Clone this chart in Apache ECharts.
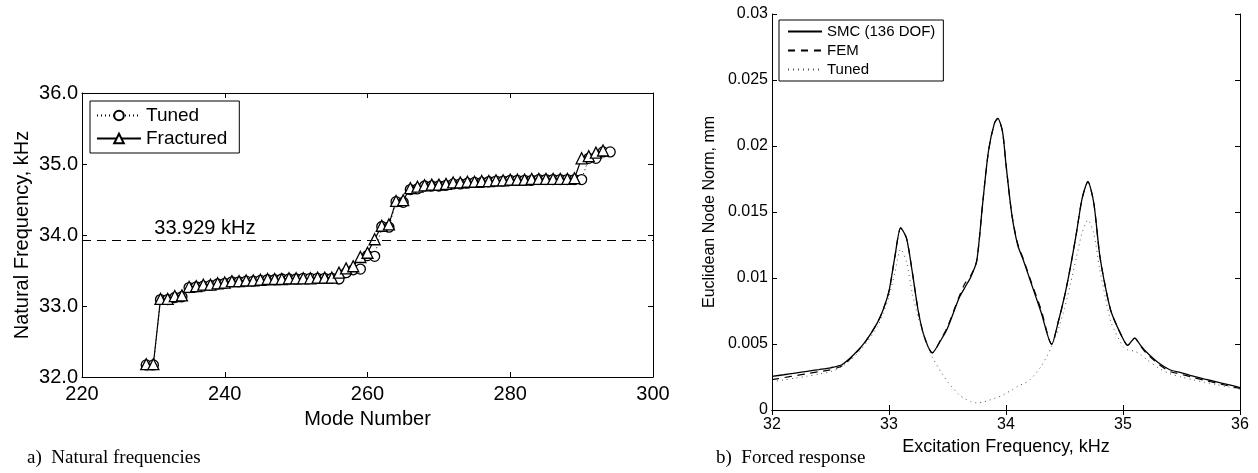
<!DOCTYPE html>
<html>
<head>
<meta charset="utf-8">
<script src="https://cdn.jsdelivr.net/npm/echarts/dist/echarts.min.js"></script>
<style>
    html, body { margin: 0; padding: 0; background: #fff; }
    #chart { width: 1258px; height: 473px; }
</style>
</head>
<body>
<div id="chart"></div>
<script>
    // a) natural frequencies, kHz, per mode number
    const modes = [229, 230, 231, 232, 233, 234, 235, 236, 237, 238, 239, 240, 241, 242, 243, 244, 245, 246, 247, 248,
        249, 250, 251, 252, 253, 254, 255, 256, 257, 258, 259, 260, 261, 262, 263, 264, 265, 266, 267, 268,
        269, 270, 271, 272, 273, 274, 275, 276, 277, 278, 279, 280, 281, 282, 283, 284, 285, 286, 287, 288,
        289, 290, 291, 292, 293, 294]
    const tunedFreq = [32.17, 32.17, 33.09, 33.09, 33.12, 33.13, 33.26, 33.27, 33.28, 33.29, 33.31, 33.32, 33.34, 33.34, 33.35, 33.35, 33.36, 33.37, 33.37, 33.38,
        33.38, 33.38, 33.39, 33.39, 33.39, 33.39, 33.39, 33.38, 33.47, 33.51, 33.52, 33.71, 33.70, 34.12, 34.11, 34.47, 34.46, 34.64, 34.65, 34.69,
        34.69, 34.69, 34.70, 34.72, 34.72, 34.73, 34.74, 34.74, 34.75, 34.76, 34.76, 34.77, 34.77, 34.77, 34.77, 34.78, 34.78, 34.78, 34.78, 34.78,
        34.78, 34.78, 35.08, 35.08, 35.17, 35.17]
    const fracturedFreq = [32.18, 32.18, 33.10, 33.10, 33.14, 33.15, 33.27, 33.28, 33.30, 33.30, 33.32, 33.33, 33.35, 33.35, 33.36, 33.36, 33.37, 33.38, 33.38, 33.38,
        33.39, 33.39, 33.39, 33.39, 33.40, 33.40, 33.40, 33.47, 33.53, 33.56, 33.69, 33.75, 33.94, 34.13, 34.15, 34.48, 34.49, 34.66, 34.68, 34.70,
        34.71, 34.71, 34.72, 34.74, 34.74, 34.75, 34.75, 34.76, 34.76, 34.77, 34.77, 34.78, 34.78, 34.78, 34.79, 34.79, 34.79, 34.79, 34.79, 34.79,
        34.80, 35.08, 35.11, 35.16, 35.19]
    const excitation = 33.929

    // b) forced response, mm, per excitation frequency kHz
    const excFreq = [32.0, 32.1, 32.2, 32.3, 32.4, 32.5, 32.6, 32.7, 32.8, 32.9, 32.95, 33.0, 33.05, 33.1, 33.15, 33.2, 33.25, 33.3, 33.37, 33.45,
        33.5, 33.6, 33.65, 33.7, 33.75, 33.8, 33.85, 33.9, 33.93, 33.97, 34.0, 34.05, 34.1, 34.15, 34.2, 34.3, 34.39, 34.45, 34.5, 34.55,
        34.6, 34.65, 34.7, 34.75, 34.8, 34.85, 34.9, 35.0, 35.04, 35.1, 35.15, 35.2, 35.3, 35.4, 35.5, 35.6, 35.7, 35.8, 35.9, 36.0]
    const smcNorm = [0.00255, 0.00267, 0.00280, 0.00293, 0.00306, 0.00320, 0.00345, 0.00420, 0.00520, 0.00660, 0.00760, 0.00900, 0.01160, 0.01380, 0.01300, 0.01040, 0.00750, 0.00560, 0.00433, 0.00540,
        0.00620, 0.00850, 0.00930, 0.01010, 0.01130, 0.01560, 0.01960, 0.02170, 0.02210, 0.02110, 0.01860, 0.01480, 0.01250, 0.01130, 0.01000, 0.00740, 0.00496, 0.00680, 0.00860, 0.01080,
        0.01330, 0.01600, 0.01730, 0.01570, 0.01180, 0.00930, 0.00740, 0.00540, 0.00490, 0.00545, 0.00490, 0.00440, 0.00360, 0.00305, 0.00282, 0.00256, 0.00234, 0.00213, 0.00192, 0.00170]
    const femNorm = [0.00230, 0.00245, 0.00260, 0.00275, 0.00290, 0.00305, 0.00335, 0.00415, 0.00520, 0.00660, 0.00760, 0.00900, 0.01160, 0.01380, 0.01300, 0.01040, 0.00750, 0.00560, 0.00433, 0.00545,
        0.00630, 0.00860, 0.00960, 0.01020, 0.01130, 0.01560, 0.01960, 0.02170, 0.02210, 0.02110, 0.01860, 0.01480, 0.01260, 0.01140, 0.01010, 0.00760, 0.00500, 0.00680, 0.00860, 0.01080,
        0.01330, 0.01600, 0.01730, 0.01570, 0.01180, 0.00930, 0.00740, 0.00540, 0.00490, 0.00545, 0.00485, 0.00430, 0.00350, 0.00292, 0.00270, 0.00246, 0.00225, 0.00203, 0.00183, 0.00163]
    const tunedNorm = [0.00215, 0.00228, 0.00242, 0.00256, 0.00272, 0.00290, 0.00330, 0.00400, 0.00500, 0.00630, 0.00730, 0.00860, 0.01040, 0.01220, 0.01120, 0.00880, 0.00700, 0.00560, 0.00400, 0.00280,
        0.00215, 0.00114, 0.00085, 0.00062, 0.00054, 0.00060, 0.00072, 0.00088, 0.00097, 0.00110, 0.00128, 0.00150, 0.00180, 0.00200, 0.00225, 0.00330, 0.00480, 0.00620, 0.00770, 0.00950,
        0.01150, 0.01340, 0.01440, 0.01340, 0.01070, 0.00850, 0.00660, 0.00480, 0.00455, 0.00445, 0.00420, 0.00385, 0.00320, 0.00275, 0.00250, 0.00228, 0.00210, 0.00192, 0.00175, 0.00158]

    const font = 'Liberation Sans'
    const pair = (xs, ys) => ys.map((v, i) => [xs[i], v])

    // matlab like box: ticks inside on all four sides
    function axis(grid, pos, min, max, step, labelSize, labels, margin, fmt) {
        return {
            type: 'value', gridIndex: grid, position: pos, min: min, max: max, interval: step,
            axisLine: {show: true, lineStyle: {color: '#000', width: 1}},
            axisTick: {show: true, inside: true, length: 5, lineStyle: {color: '#000'}},
            splitLine: {show: false},
            axisLabel: {show: labels, color: '#000', fontFamily: font, fontSize: labelSize, margin: margin, formatter: fmt}
        }
    }

    const option = {
        animation: false,
        backgroundColor: '#fff',
        grid: [
            {left: 82, top: 93, width: 571, height: 284},
            {left: 772, top: 14, width: 468, height: 396}
        ],
        xAxis: [
            Object.assign(axis(0, 'bottom', 220, 300, 20, 20, true, 7), {
                name: 'Mode Number', nameLocation: 'middle', nameGap: 32,
                nameTextStyle: {color: '#000', fontFamily: font, fontSize: 20}
            }),
            axis(0, 'top', 220, 300, 20, 20, false, 4),
            Object.assign(axis(1, 'bottom', 32, 36, 1, 16, true, 7), {
                name: 'Excitation Frequency, kHz', nameLocation: 'middle', nameGap: 25,
                nameTextStyle: {color: '#000', fontFamily: font, fontSize: 18}
            }),
            axis(1, 'top', 32, 36, 1, 16, false, 4)
        ],
        yAxis: [
            Object.assign(axis(0, 'left', 32, 36, 1, 20, true, 4, v => v.toFixed(1)), {
                name: 'Natural Frequency, kHz', nameLocation: 'middle', nameGap: 50,
                nameTextStyle: {color: '#000', fontFamily: font, fontSize: 20}
            }),
            axis(0, 'right', 32, 36, 1, 20, false, 4),
            Object.assign(axis(1, 'left', 0, 0.03, 0.005, 16, true, 4), {
                name: 'Euclidean Node Norm, mm', nameLocation: 'middle', nameGap: 54,
                nameTextStyle: {color: '#000', fontFamily: font, fontSize: 16}
            }),
            axis(1, 'right', 0, 0.03, 0.005, 16, false, 4)
        ],
        legend: [
            {
                data: ['Tuned', 'Fractured'],
                orient: 'vertical', left: 90, top: 101,
                padding: [5, 12, 5, 6], itemGap: 4, itemWidth: 44, itemHeight: 12,
                borderColor: '#000', borderWidth: 1, backgroundColor: '#fff',
                textStyle: {color: '#000', fontFamily: font, fontSize: 19}
            },
            {
                data: ['SMC (136 DOF)', 'FEM', 'Tuned '],
                orient: 'vertical', left: 779, top: 20,
                padding: [4, 8, 4, 8], itemGap: 4, itemWidth: 34, itemHeight: 12,
                borderColor: '#000', borderWidth: 1, backgroundColor: '#fff',
                itemStyle: {opacity: 0},
                textStyle: {color: '#000', fontFamily: font, fontSize: 15}
            }
        ],
        series: [
            {
                name: 'Tuned', type: 'line', xAxisIndex: 0, yAxisIndex: 0,
                data: pair(modes, tunedFreq),
                symbol: 'circle', symbolSize: 10,
                itemStyle: {color: '#fff', borderColor: '#000', borderWidth: 1.3},
                lineStyle: {color: '#000', width: 1, type: [1, 3]},
                // excitation frequency line
                markLine: {
                    silent: true, symbol: ['none', 'none'],
                    lineStyle: {color: '#000', width: 1, type: [9, 6]},
                    label: {show: false},
                    data: [{yAxis: excitation}]
                },
                markPoint: {
                    silent: true, symbol: 'rect', symbolSize: 1,
                    itemStyle: {color: 'transparent'},
                    label: {
                        show: true, position: [0, -21], align: 'left',
                        formatter: excitation + ' kHz', color: '#000', fontFamily: font, fontSize: 20
                    },
                    data: [{coord: [230.2, excitation]}]
                },
                z: 3
            },
            {
                name: 'Fractured', type: 'line', xAxisIndex: 0, yAxisIndex: 0,
                data: pair(modes, fracturedFreq),
                symbol: 'triangle', symbolSize: 11,
                itemStyle: {color: '#fff', borderColor: '#000', borderWidth: 1.3},
                lineStyle: {color: '#000', width: 1.2, type: 'solid'},
                z: 4
            },
            {
                name: 'SMC (136 DOF)', type: 'line', xAxisIndex: 2, yAxisIndex: 2,
                data: pair(excFreq, smcNorm), showSymbol: false, symbol: 'none', smooth: 0.25,
                itemStyle: {color: '#000'},
                lineStyle: {color: '#000', width: 1.3}
            },
            {
                name: 'FEM', type: 'line', xAxisIndex: 2, yAxisIndex: 2,
                data: pair(excFreq, femNorm), showSymbol: false, symbol: 'none', smooth: 0.25,
                itemStyle: {color: '#000'},
                lineStyle: {color: '#000', width: 1.2, type: [7, 6]}
            },
            {
                name: 'Tuned ', type: 'line', xAxisIndex: 2, yAxisIndex: 2,
                data: pair(excFreq, tunedNorm), showSymbol: false, symbol: 'none', smooth: 0.25,
                itemStyle: {color: '#555'},
                lineStyle: {color: '#555', width: 1, type: [1, 4]}
            }
        ],
        graphic: [
            {type: 'text', left: 27, top: 449, style: {text: 'a)  Natural frequencies', fill: '#000', font: '19px "Liberation Serif"'}},
            {type: 'text', left: 716, top: 449, style: {text: 'b)  Forced response', fill: '#000', font: '19px "Liberation Serif"'}}
        ]
    }

    const chart = echarts.init(document.getElementById('chart'), null, {renderer: 'canvas'})
    chart.setOption(option)
</script>
</body>
</html>
